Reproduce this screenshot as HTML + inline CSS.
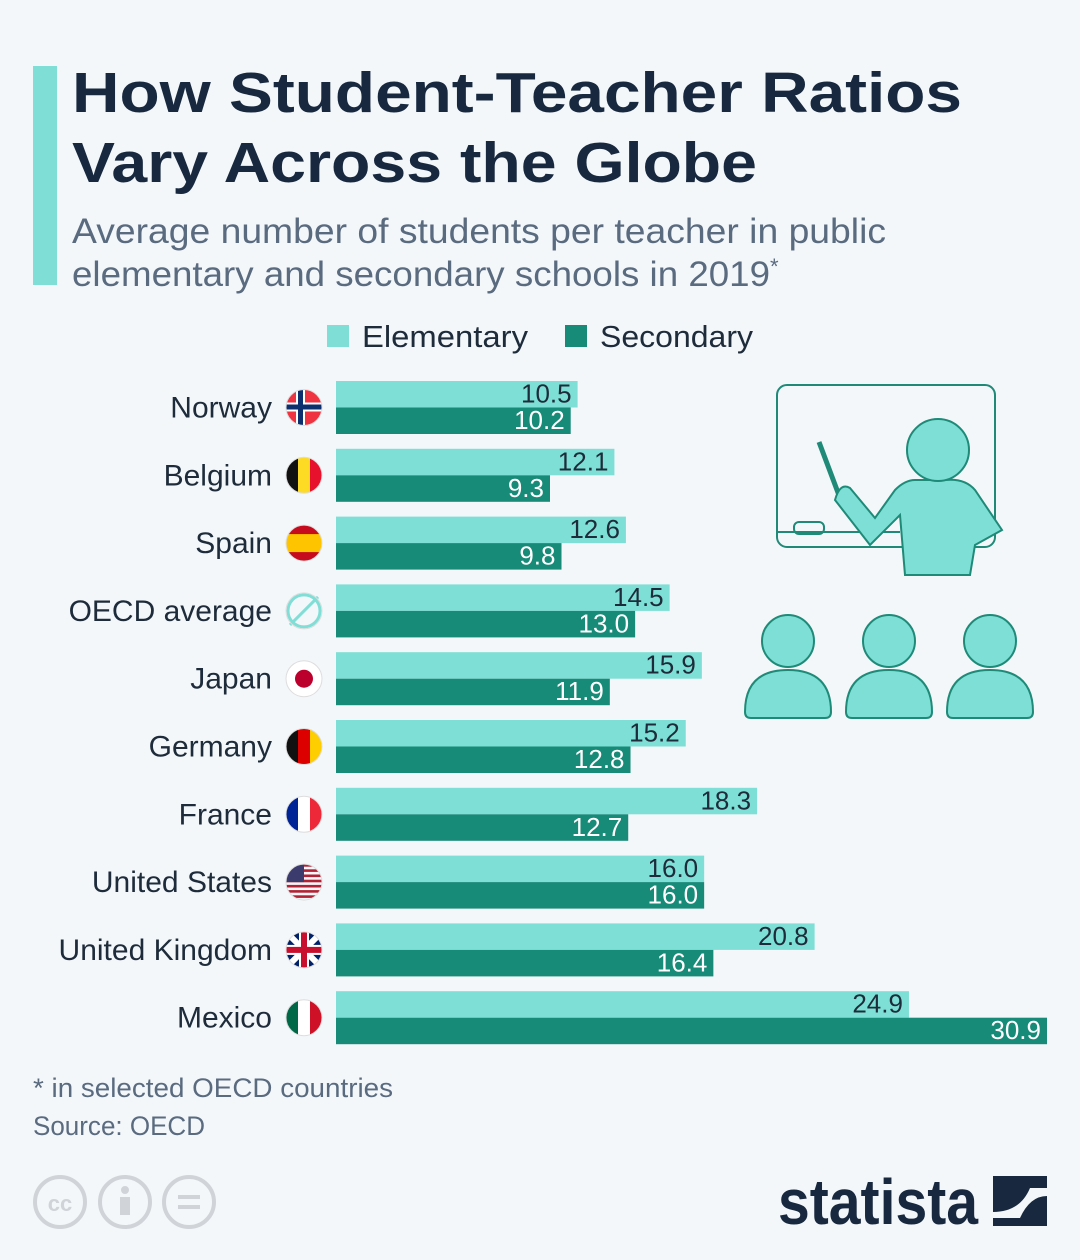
<!DOCTYPE html>
<html><head><meta charset="utf-8"><style>
body{margin:0;background:#f3f7fa;}
svg{display:block;font-family:"Liberation Sans",sans-serif;}
</style></head><body>
<svg id="c" width="1080" height="1260" viewBox="0 0 1080 1260">
<rect width="1080" height="1260" fill="#f3f7fa"/>
<rect x="33" y="66" width="24" height="219" fill="#7fded6"/>
<text x="72" y="112" font-size="57" font-weight="bold" fill="#17283f" textLength="890" lengthAdjust="spacingAndGlyphs">How Student-Teacher Ratios</text>
<text x="72" y="182" font-size="57" font-weight="bold" fill="#17283f" textLength="685" lengthAdjust="spacingAndGlyphs">Vary Across the Globe</text>
<text x="72" y="243" font-size="35" fill="#5a6b80" textLength="814" lengthAdjust="spacingAndGlyphs">Average number of students per teacher in public</text>
<text x="72" y="286" font-size="35" fill="#5a6b80"><tspan textLength="698" lengthAdjust="spacingAndGlyphs">elementary and secondary schools in 2019</tspan><tspan font-size="22" dy="-12">*</tspan></text>
<g>
<rect x="327" y="325" width="22" height="22" fill="#7fded6"/>
<text x="362" y="347" font-size="31" fill="#1d2b3a" textLength="166" lengthAdjust="spacingAndGlyphs">Elementary</text>
<rect x="565" y="325" width="22" height="22" fill="#178a78"/>
<text x="600" y="347" font-size="31" fill="#1d2b3a" textLength="153" lengthAdjust="spacingAndGlyphs">Secondary</text>
</g>
<g id="bars"></g>
<g stroke="#1f8a78" stroke-width="2">
<rect x="777" y="385" width="218" height="162" rx="10" fill="none"/>
<line x1="777" y1="532" x2="900" y2="532"/>
<rect x="794" y="522" width="30" height="12" rx="5" fill="none"/>
<line x1="819" y1="442" x2="840" y2="498" stroke-width="5"/>
<path d="M835 500 L870 545 L900 515 L905 575 L970 575 L975 545 L1002 530 L975 490 Q965 478 945 480 L915 480 Q905 480 895 490 L875 518 L850 488 Q840 482 835 500 Z" fill="#7ddfd5"/>
<circle cx="938" cy="450" r="31" fill="#7ddfd5"/>
<circle cx="788" cy="641" r="26" fill="#7ddfd5"/><path d="M745 712 Q745 670 788 670 Q831 670 831 712 Q831 718 825 718 L751 718 Q745 718 745 712Z" fill="#7ddfd5"/>
<circle cx="889" cy="641" r="26" fill="#7ddfd5"/><path d="M846 712 Q846 670 889 670 Q932 670 932 712 Q932 718 926 718 L852 718 Q846 718 846 712Z" fill="#7ddfd5"/>
<circle cx="990" cy="641" r="26" fill="#7ddfd5"/><path d="M947 712 Q947 670 990 670 Q1033 670 1033 712 Q1033 718 1027 718 L953 718 Q947 718 947 712Z" fill="#7ddfd5"/>
</g>
<text x="33" y="1097" font-size="27" fill="#5a6b80" textLength="360" lengthAdjust="spacingAndGlyphs">* in selected OECD countries</text>
<text x="33" y="1135" font-size="27" fill="#5a6b80" textLength="172" lengthAdjust="spacingAndGlyphs">Source: OECD</text>
<g fill="none" stroke="#d0d4d8" stroke-width="4">
<circle cx="60" cy="1202" r="25"/><circle cx="125" cy="1202" r="25"/><circle cx="189" cy="1202" r="25"/>
<text x="60" y="1211" font-size="22" font-weight="bold" fill="#d0d4d8" stroke="none" text-anchor="middle">cc</text>
<circle cx="125" cy="1190" r="4" fill="#d0d4d8" stroke="none"/><rect x="120" y="1197" width="10" height="18" fill="#d0d4d8" stroke="none"/>
<line x1="178" y1="1197" x2="200" y2="1197"/><line x1="178" y1="1207" x2="200" y2="1207"/>
</g>
<text x="778" y="1224" font-size="64" font-weight="bold" fill="#17283f" textLength="200" lengthAdjust="spacingAndGlyphs">statista</text>
<path d="M993 1176 L1047 1176 L1047 1226 L993 1226 Z" fill="#17283f"/>
<path d="M993 1212 Q1020 1212 1030 1188 L1047 1188 L1047 1196 Q1030 1196 1020 1218 L993 1218Z" fill="#f3f7fa"/>
</svg>
<script>
const countries=["Norway","Belgium","Spain","OECD average","Japan","Germany","France","United States","United Kingdom","Mexico"];
const elementary=[10.5,12.1,12.6,14.5,15.9,15.2,18.3,16.0,20.8,24.9];
const secondary=[10.2,9.3,9.8,13.0,11.9,12.8,12.7,16.0,16.4,30.9];
const flagColors=[["#ef3340","#0c2f6e"],["#111","#fdda24","#e8112d"],["#c60b1e","#ffc400","#c60b1e"],["#7fded6"],["#fff","#bc002d"],["#111","#dd0000","#ffce00"],["#002395","#fff","#ed2939"],["#b22234","#fff"],["#012169","#c8102e"],["#006847","#fff","#ce1126"]];
const NS="http://www.w3.org/2000/svg";
const x0=336, k=(1047-336)/30.9, y0=381, step=67.8, bh=26.5;
const xs=v=>v*k;
const g=document.getElementById('bars');
function mk(t,a,p){const e=document.createElementNS(NS,t);for(const n in a)e.setAttribute(n,a[n]);(p||g).appendChild(e);return e;}
countries.forEach((c,i)=>{
  const y=y0+i*step;
  const l=mk('text',{x:272,y:y+bh+10,'font-size':30,'text-anchor':'end',fill:'#1d2b3a'});
  
  
  l.textContent=c;
  const cx=304,cy=y+bh,fc=flagColors[i];
  const f=mk('g',{});
  
  
  const cid='cl'+i;
  const cp=mk('clipPath',{id:cid},f);mk('circle',{cx:cx,cy:cy,r:18},cp);
  const fg=mk('g',{'clip-path':'url(#'+cid+')'},f);
  if(fc.length===3&&i!==2){fc.forEach((col,j)=>mk('rect',{x:cx-18+j*12,y:cy-18,width:12.1,height:36,fill:col},fg));}
  else if(i===2){mk('rect',{x:cx-18,y:cy-18,width:36,height:36,fill:fc[0]},fg);mk('rect',{x:cx-18,y:cy-9,width:36,height:18,fill:fc[1]},fg);}
  else if(i===3){mk('circle',{cx:cx,cy:cy,r:16,fill:'none',stroke:'#7fded6','stroke-width':3},f);mk('line',{x1:cx-14,y1:cy+14,x2:cx+14,y2:cy-14,stroke:'#7fded6','stroke-width':3},f);}
  else if(i===4){mk('rect',{x:cx-18,y:cy-18,width:36,height:36,fill:'#fff'},fg);mk('circle',{cx:cx,cy:cy,r:9,fill:fc[1]},fg);}
  else if(i===0){mk('rect',{x:cx-18,y:cy-18,width:36,height:36,fill:fc[0]},fg);mk('rect',{x:cx-8,y:cy-18,width:9,height:36,fill:'#fff'},fg);mk('rect',{x:cx-18,y:cy-5,width:36,height:9,fill:'#fff'},fg);mk('rect',{x:cx-6,y:cy-18,width:5,height:36,fill:fc[1]},fg);mk('rect',{x:cx-18,y:cy-3,width:36,height:5,fill:fc[1]},fg);}
  else if(i===7){for(let j=0;j<7;j++)mk('rect',{x:cx-18,y:cy-18+j*5.2,width:36,height:2.6,fill:fc[0]},fg);mk('rect',{x:cx-18,y:cy-18,width:18,height:18,fill:'#3c3b6e'},fg);}
  else if(i===8){mk('rect',{x:cx-18,y:cy-18,width:36,height:36,fill:fc[0]},fg);mk('line',{x1:cx-18,y1:cy-18,x2:cx+18,y2:cy+18,stroke:'#fff','stroke-width':6},fg);mk('line',{x1:cx+18,y1:cy-18,x2:cx-18,y2:cy+18,stroke:'#fff','stroke-width':6},fg);mk('rect',{x:cx-5,y:cy-18,width:10,height:36,fill:'#fff'},fg);mk('rect',{x:cx-18,y:cy-5,width:36,height:10,fill:'#fff'},fg);mk('rect',{x:cx-3,y:cy-18,width:6,height:36,fill:fc[1]},fg);mk('rect',{x:cx-18,y:cy-3,width:36,height:6,fill:fc[1]},fg);}
  mk('circle',{cx:cx,cy:cy,r:18,fill:'none',stroke:'#ddd','stroke-width':1},f);
  const b1=mk('rect',{x:x0,y:y,width:xs(elementary[i]),height:bh,fill:'#7ddfd5'});
  
  
  const t1=mk('text',{x:x0+xs(elementary[i])-6,y:y+bh-5,'font-size':26,'text-anchor':'end',fill:'#1d2b3a'});
  
  
  t1.textContent=elementary[i].toFixed(1);
  const b2=mk('rect',{x:x0,y:y+bh,width:xs(secondary[i]),height:bh,fill:'#178a78'});
  
  
  const t2=mk('text',{x:x0+xs(secondary[i])-6,y:y+2*bh-5,'font-size':26,'text-anchor':'end',fill:'#fff'});
  
  
  t2.textContent=secondary[i].toFixed(1);
});
</script>
</body></html>
